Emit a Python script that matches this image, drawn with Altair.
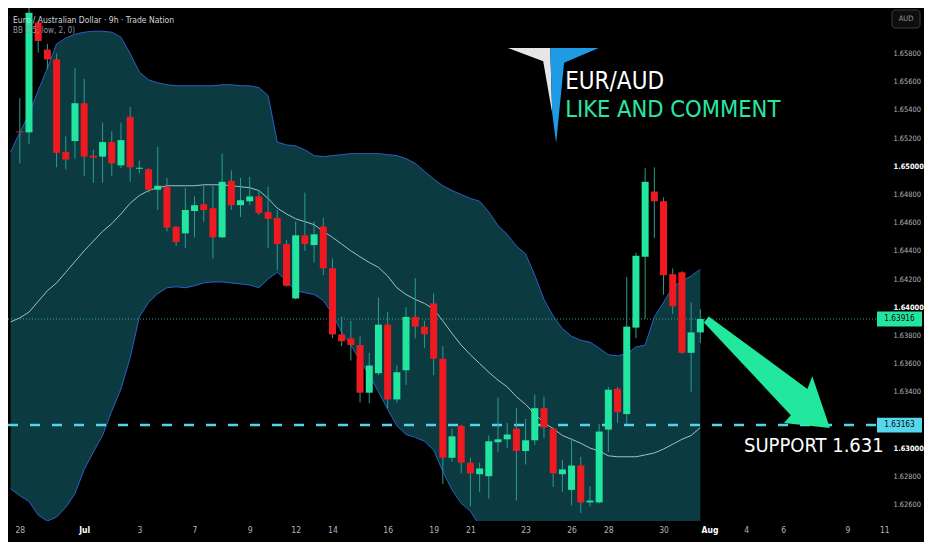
import altair as alt
import pandas as pd

# ---------------- data ----------------
candle_idx = list(range(75))
open_ = [1.65248, 1.65241, 1.66021, 1.65828, 1.65759, 1.65103, 1.65179, 1.65448, 1.65076, 1.65069,
         1.65172, 1.65007, 1.65352, 1.64983, 1.64979, 1.64834, 1.64855, 1.64572, 1.64524, 1.64683,
         1.64731, 1.64703, 1.64496, 1.64897, 1.64724, 1.64752, 1.64786, 1.64676, 1.64634, 1.64448,
         1.64062, 1.64510, 1.64441, 1.64572, 1.64276, 1.63807, 1.63779, 1.63731, 1.63393, 1.63531,
         1.63876, 1.63345, 1.63552, 1.63931, 1.63862, 1.64027, 1.63634, 1.62931, 1.63158, 1.62896,
         1.62814, 1.62800, 1.63041, 1.63062, 1.63138, 1.62979, 1.63055, 1.63283, 1.63138, 1.62814,
         1.62703, 1.62876, 1.62614, 1.62614, 1.63131, 1.63421, 1.63241, 1.63855, 1.64358, 1.64821,
         1.64752, 1.64234, 1.64248, 1.63676, 1.63821]
high = [1.65483, 1.66130, 1.66034, 1.65869, 1.65800, 1.65214, 1.65697, 1.65621, 1.65117, 1.65310,
        1.65248, 1.65310, 1.65421, 1.65041, 1.64985, 1.65138, 1.64917, 1.64575, 1.64848, 1.64786,
        1.64862, 1.64862, 1.65090, 1.64972, 1.64917, 1.64924, 1.64828, 1.64855, 1.64690, 1.64476,
        1.64607, 1.64814, 1.64607, 1.64634, 1.64345, 1.63931, 1.63903, 1.63793, 1.63676, 1.64069,
        1.63965, 1.63586, 1.64000, 1.64207, 1.63903, 1.64096, 1.63724, 1.63138, 1.63165, 1.62931,
        1.62896, 1.63089, 1.63358, 1.63179, 1.63283, 1.63207, 1.63379, 1.63365, 1.63145, 1.62917,
        1.63069, 1.62938, 1.62731, 1.63172, 1.63434, 1.63434, 1.64214, 1.64386, 1.64986, 1.64993,
        1.64779, 1.64276, 1.64255, 1.64034, 1.63986]
low = [1.65021, 1.65159, 1.65807, 1.65690, 1.64993, 1.64979, 1.65055, 1.64931, 1.64883, 1.64883,
       1.64931, 1.64986, 1.64890, 1.64952, 1.64814, 1.64690, 1.64538, 1.64434, 1.64421, 1.64496,
       1.64607, 1.64345, 1.64490, 1.64690, 1.64641, 1.64724, 1.64655, 1.64421, 1.64262, 1.64145,
       1.64055, 1.64400, 1.64317, 1.64227, 1.63779, 1.63724, 1.63621, 1.63324, 1.63317, 1.63517,
       1.63283, 1.63324, 1.63448, 1.63779, 1.63710, 1.63517, 1.62745, 1.62903, 1.62820, 1.62586,
       1.62689, 1.62641, 1.62972, 1.63000, 1.62627, 1.62883, 1.63020, 1.63069, 1.62724, 1.62689,
       1.62593, 1.62538, 1.62586, 1.62607, 1.62972, 1.63179, 1.63172, 1.63779, 1.63917, 1.64490,
       1.64090, 1.63952, 1.63670, 1.63400, 1.63745]
close = [1.65241, 1.66090, 1.65890, 1.65759, 1.65096, 1.65048, 1.65448, 1.65069, 1.65062, 1.65172,
         1.65021, 1.65186, 1.64993, 1.64990, 1.64834, 1.64862, 1.64565, 1.64462, 1.64690, 1.64724,
         1.64690, 1.64496, 1.64890, 1.64724, 1.64759, 1.64786, 1.64669, 1.64627, 1.64448, 1.64152,
         1.64510, 1.64448, 1.64517, 1.64276, 1.63807, 1.63758, 1.63731, 1.63393, 1.63586, 1.63876,
         1.63345, 1.63538, 1.63931, 1.63862, 1.63807, 1.63634, 1.62931, 1.63083, 1.62896, 1.62820,
         1.62855, 1.63048, 1.63062, 1.63096, 1.62979, 1.63055, 1.63283, 1.63145, 1.62820, 1.62848,
         1.62876, 1.62614, 1.62627, 1.63117, 1.63414, 1.63255, 1.63862, 1.64365, 1.64890, 1.64752,
         1.64227, 1.64007, 1.63676, 1.63821, 1.63916]

band_idx = list(range(-1, 75))
bb_upper = [1.65103, 1.65241, 1.65372, 1.65538, 1.65697, 1.65869, 1.65910, 1.65938, 1.65952, 1.65959,
            1.65959, 1.65952, 1.65917, 1.65800, 1.65669, 1.65614, 1.65593, 1.65579, 1.65572, 1.65572,
            1.65572, 1.65572, 1.65572, 1.65579, 1.65579, 1.65572, 1.65572, 1.65559, 1.65503, 1.65172,
            1.65152, 1.65145, 1.65117, 1.65076, 1.65069, 1.65076, 1.65083, 1.65090, 1.65090, 1.65090,
            1.65090, 1.65083, 1.65076, 1.65055, 1.65021, 1.64965, 1.64910, 1.64862, 1.64828, 1.64800,
            1.64772, 1.64752, 1.64676, 1.64579, 1.64517, 1.64434, 1.64379, 1.64227, 1.64055, 1.63938,
            1.63848, 1.63793, 1.63765, 1.63752, 1.63710, 1.63662, 1.63655, 1.63669, 1.63717, 1.63731,
            1.63931, 1.64034, 1.64145, 1.64186, 1.64221, 1.64269]
bb_basis = [1.63896, 1.63924, 1.63965, 1.64041, 1.64117, 1.64172, 1.64248, 1.64324, 1.64400, 1.64469,
            1.64538, 1.64593, 1.64662, 1.64738, 1.64793, 1.64828, 1.64848, 1.64862, 1.64862, 1.64862,
            1.64862, 1.64869, 1.64869, 1.64869, 1.64862, 1.64855, 1.64848, 1.64828, 1.64772, 1.64703,
            1.64662, 1.64627, 1.64607, 1.64586, 1.64538, 1.64496, 1.64448, 1.64400, 1.64358, 1.64317,
            1.64283, 1.64221, 1.64138, 1.64090, 1.64055, 1.64027, 1.63986, 1.63903, 1.63814, 1.63731,
            1.63662, 1.63600, 1.63538, 1.63482, 1.63434, 1.63365, 1.63310, 1.63241, 1.63179, 1.63138,
            1.63089, 1.63062, 1.63034, 1.63000, 1.62979, 1.62945, 1.62938, 1.62938, 1.62938, 1.62951,
            1.62965, 1.62993, 1.63027, 1.63062, 1.63089, 1.63145]
bb_lower = [1.62710, 1.62662, 1.62620, 1.62524, 1.62482, 1.62510, 1.62579, 1.62676, 1.62848, 1.62972,
            1.63089, 1.63262, 1.63420, 1.63641, 1.63931, 1.64034, 1.64096, 1.64138, 1.64145, 1.64138,
            1.64152, 1.64172, 1.64179, 1.64179, 1.64172, 1.64165, 1.64158, 1.64138, 1.64200, 1.64248,
            1.64186, 1.64117, 1.64103, 1.64090, 1.64048, 1.63952, 1.63821, 1.63731, 1.63621, 1.63517,
            1.63400, 1.63276, 1.63158, 1.63096, 1.63076, 1.63048, 1.62986, 1.62834, 1.62703, 1.62607,
            1.62552, 1.62448, 1.62400, 1.62386, 1.62351, 1.62296, 1.62241, 1.62255, 1.62303, 1.62338,
            1.62331, 1.62331, 1.62303, 1.62248, 1.62248, 1.62227, 1.62220, 1.62207, 1.62158, 1.62172,
            1.62000, 1.61951, 1.61910, 1.61938, 1.61958, 1.62020]

time_tick_pos = [0, 7, 13, 19, 25, 30, 34, 40, 45, 49, 55, 60, 64, 70, 75, 79, 83, 90, 94]
time_tick_text = ["28", "Jul", "3", "7", "9", "12", "14", "16", "19", "21", "23", "26", "28",
                  "30", "Aug", "4", "6", "9", "11"]
price_ticks = [1.626, 1.628, 1.630, 1.634, 1.636, 1.638, 1.640, 1.642, 1.644, 1.646, 1.648,
               1.650, 1.652, 1.654, 1.656, 1.658]
last_price = 1.63916
support_price = 1.63163

title_text = "Euro / Australian Dollar \u00b7 9h \u00b7 Trade Nation"
indicator_text = "BB (25, low, 2, 0)"

# ---------------- styling ----------------
W, H = 916, 513
NARROW = "Liberation Sans Narrow, DejaVu Sans Condensed, Roboto Condensed, Liberation Sans, sans-serif"
GREEN = "#22e6a0"
RED = "#ef1a1f"
CYAN = "#52d4ea"

xs = alt.Scale(domain=[-0.74, 97.78], nice=False, zero=False)
ys = alt.Scale(domain=[1.62482, 1.66124], nice=False, zero=False)

label_js = ("[" + ",".join(f"'{t}'" for t in time_tick_text) + "][indexof(["
            + ",".join(str(v) for v in time_tick_pos) + "], datum.value)]")

xaxis = alt.Axis(
    values=time_tick_pos, labelExpr=label_js, title=None, domain=False, ticks=False,
    grid=False, labelPadding=4, labelFontSize=8.5, labelFont=NARROW,
    labelColor={"condition": {"test": "datum.value == 7 || datum.value == 75", "value": "#ffffff"},
                "value": "#b2b5be"},
    labelFontWeight={"condition": {"test": "datum.value == 7 || datum.value == 75", "value": "bold"},
                     "value": "normal"},
    labelOverlap=False, labelBound=False, labelFlush=False, zindex=2)

major_test = "indexof([1.63, 1.64, 1.65], datum.value) >= 0"
yaxis = alt.Axis(
    orient="right", values=price_ticks, format=".5f", offset=-34, title=None, domain=False,
    ticks=False, grid=False, labelAlign="left", labelPadding=3, labelFontSize=7.4, labelFont=NARROW,
    labelColor={"condition": {"test": major_test, "value": "#ffffff"}, "value": "#b2b5be"},
    labelFontWeight={"condition": {"test": major_test, "value": "bold"}, "value": "normal"},
    labelOverlap=False, labelBound=False, zindex=2)


def X(field):
    return alt.X(field, type="quantitative", scale=xs, axis=xaxis)


def Y(field):
    return alt.Y(field, type="quantitative", scale=ys, axis=yaxis)


band = pd.DataFrame({"i": band_idx, "upper": bb_upper, "basis": bb_basis, "lower": bb_lower})
cd = pd.DataFrame({"i": candle_idx, "open": open_, "high": high, "low": low, "close": close})
one = pd.DataFrame({"a": [0]})

fill = alt.Chart(band).mark_area(color="#0b3a40", clip=True).encode(
    x=X("i"), y=Y("upper"), y2="lower")
up_line = alt.Chart(band).mark_line(color="#2b5fc6", strokeWidth=1, clip=True).encode(
    x=X("i"), y=Y("upper"))
lo_line = alt.Chart(band).mark_line(color="#2b5fc6", strokeWidth=1, clip=True).encode(
    x=X("i"), y=Y("lower"))
mid_line = alt.Chart(band).mark_line(color="#9ec3c8", strokeWidth=1, clip=True).encode(
    x=X("i"), y=Y("basis"))

lp = pd.DataFrame({"p": [last_price]})
sp = pd.DataFrame({"p": [support_price]})
lp_rule = alt.Chart(lp).mark_rule(color="#2fa38c", strokeDash=[1, 2], strokeWidth=1).encode(
    y=Y("p"), x=alt.value(0), x2=alt.value(869))
sp_rule = alt.Chart(sp).mark_rule(color=CYAN, strokeDash=[10, 12], strokeWidth=2.5).encode(
    y=Y("p"), x=alt.value(0), x2=alt.value(869))

wick = alt.Chart(cd).mark_rule(color="#2a9d8f", strokeWidth=1).encode(
    x=X("i"), y=Y("low"), y2="high")
body = alt.Chart(cd).mark_bar(size=7).encode(
    x=X("i"), y=Y("open"), y2="close",
    color=alt.condition("datum.close >= datum.open", alt.value(GREEN), alt.value(RED)))

ARROW = ("M-0.915,-0.877L0.638,0.262L0.715,0.062L0.992,0.877L0.269,0.8L0.377,0.677"
         "L-0.992,-0.785Z")
arrow = alt.Chart(pd.DataFrame({"i": [81.24], "p": [1.63538]})).mark_point(
    shape=ARROW, size=16129, filled=True, opacity=1, color="#22e89e", strokeWidth=0).encode(
    x=X("i"), y=Y("p"))

LOGO_W = "M-0.958,-1L-0.0625,-1L-0.02,0.375L-0.21,-0.72Z"
LOGO_B = "M-0.0625,-1L0.958,-1L0.229,-0.6875L0.0625,1L-0.02,0.375Z"
logo_pt = pd.DataFrame({"i": [58.0], "p": [1.65503]})
logo_w = alt.Chart(logo_pt).mark_point(
    shape=LOGO_W, size=9025, filled=True, opacity=1, color="#e6e6e6", strokeWidth=0).encode(
    x=X("i"), y=Y("p"))
logo_b = alt.Chart(logo_pt).mark_point(
    shape=LOGO_B, size=9025, filled=True, opacity=1, color="#1f9be6", strokeWidth=0).encode(
    x=X("i"), y=Y("p"))

pair_txt = alt.Chart(pd.DataFrame({"i": [59.3], "p": [1.65552], "t": ["EUR/AUD"]})).mark_text(
    align="left", baseline="alphabetic", font=NARROW, fontSize=24, color="#ffffff").encode(
    x=X("i"), y=Y("p"), text="t:N")
like_txt = alt.Chart(pd.DataFrame({"i": [59.3], "p": [1.65352], "t": ["LIKE AND COMMENT"]})).mark_text(
    align="left", baseline="alphabetic", font=NARROW, fontSize=23.5, color="#2ae6a2").encode(
    x=X("i"), y=Y("p"), text="t:N")
sup_txt = alt.Chart(pd.DataFrame({"i": [78.75], "p": [1.62972], "t": ["SUPPORT  1.631"]})).mark_text(
    align="left", baseline="alphabetic", font=NARROW, fontSize=20, color="#ffffff").encode(
    x=X("i"), y=Y("p"), text="t:N")

TAG = "M-1,-0.33L1,-0.33L1,0.33L-1,0.33Z"
tags = pd.DataFrame({"p": [last_price, support_price], "k": ["last", "support"]})
tag_box = alt.Chart(tags).mark_point(
    shape=TAG, size=2025, filled=True, opacity=1, strokeWidth=0).encode(
    x=alt.value(891.5), y=Y("p"),
    color=alt.Color("k:N", scale=alt.Scale(domain=["last", "support"], range=[GREEN, "#56d8ec"]),
                    legend=None))
tag_txt = alt.Chart(tags).mark_text(font=NARROW, fontSize=8.2, color="#0a0a0a").encode(
    x=alt.value(891.5), y=Y("p"), text=alt.Text("p:Q", format=".5f"))

title = alt.Chart(one).mark_text(align="left", baseline="alphabetic", font=NARROW, fontSize=8.5,
                                 color="#d1d4dc").encode(
    x=alt.value(5), y=alt.value(14.5), text=alt.value(title_text))
ind = alt.Chart(one).mark_text(align="left", baseline="alphabetic", font=NARROW, fontSize=8,
                               color="#9598a1").encode(
    x=alt.value(5), y=alt.value(25), text=alt.value(indicator_text))
aud_box = alt.Chart(one).mark_rect(cornerRadius=3, fill="#0e0e0e", stroke="#3b3b3b",
                                   strokeWidth=1).encode(
    x=alt.value(884), x2=alt.value(912), y=alt.value(2), y2=alt.value(20))
aud_txt = alt.Chart(one).mark_text(font=NARROW, fontSize=7.5, color="#9598a1").encode(
    x=alt.value(898), y=alt.value(11), text=alt.value("AUD"))

chart = alt.layer(
    fill, up_line, lo_line, mid_line, lp_rule, sp_rule, wick, body,
    arrow, logo_w, logo_b, pair_txt, like_txt, sup_txt,
    tag_box, tag_txt, title, ind, aud_box, aud_txt
).properties(
    width=W, height=H, background="#000000",
    padding={"left": 0, "top": 0, "right": 0, "bottom": 21},
    autosize=alt.AutoSizeParams(type="none"),
).configure_view(stroke=None)

chart.save("out.html", embed_options={"renderer": "svg", "actions": False})
